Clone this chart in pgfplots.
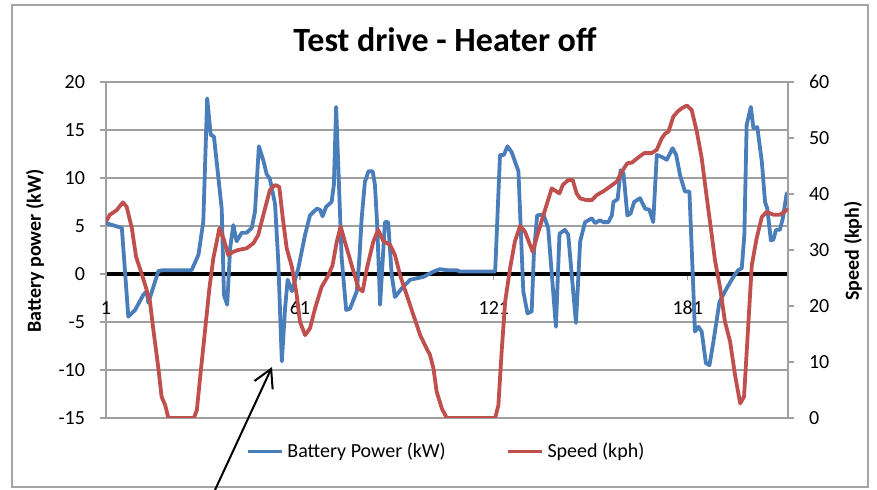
\documentclass[border=0pt]{standalone}
\usepackage{fontspec}
\setmainfont{Carlito}
\usepackage{pgfplots}
\pgfplotsset{compat=1.18}
\usetikzlibrary{arrows.meta}
\definecolor{xlblue}{RGB}{74,126,187}
\definecolor{xlred}{RGB}{192,80,77}
\definecolor{gridc}{RGB}{160,160,160}
\definecolor{framec}{RGB}{165,165,165}
\begin{document}
\begin{tikzpicture}
\useasboundingbox (0,0) rectangle (438.5pt,245pt);
\draw[framec, line width=0.9pt] (6pt,1.5pt) rectangle (434pt,242.5pt);
\node[font=\fontsize{17}{20}\selectfont\bfseries, anchor=base, inner sep=0pt] at (222.5pt,219pt) {Test drive - Heater off};
\node[font=\fontsize{10}{12}\selectfont\bfseries, rotate=90, inner sep=0pt] at (17.5pt,119.5pt) {Battery power (kW)};
\node[font=\fontsize{10}{12}\selectfont\bfseries, rotate=90, inner sep=0pt] at (426.5pt,119.5pt) {Speed (kph)};
\begin{axis}[
  at={(53pt,36pt)}, anchor=south west, scale only axis, width=341pt, height=168pt,
  xmin=1, xmax=212, ymin=-15, ymax=20,
  axis x line=middle, axis y line=left,
  hide obscured x ticks=false,
  axis line style={-},
  x axis line style={black, line width=2pt},
  y axis line style={gridc, line width=0.6pt},
  xtick={1,61,121,181}, ytick={-15,-10,...,20},
  tick align=outside, xtick align=outside,
  major tick length=3pt,
  tick style={gridc, line width=0.6pt},
  ymajorgrids, grid style={gridc, line width=0.6pt},
  ticklabel style={font=\fontsize{10}{12}\selectfont},
  /pgf/number format/assume math mode=true,
  xticklabel style={anchor=center, yshift=-14pt},
  yticklabel style={xshift=-4pt},
  legend style={at={(0.5,-0.1)}, anchor=center, draw=none, fill=none,
    legend columns=2, font=\fontsize{10}{12}\selectfont,
    /tikz/every even column/.append style={column sep=28pt}},
  legend cell align=left,
  legend image code/.code={\draw[#1] (0pt,0pt) -- (17pt,0pt);},
]
\addplot[xlblue, line width=1.9pt, line join=round] coordinates {
(1,5.3) (5.9,4.8) (7.9,-4.45) (10.0,-3.75) (12.5,-2.2) (13.6,-1.8) (14.1,-3.0) (17.2,0.3) (18.5,0.4) (27.5,0.4) (29.6,2.0) (31.1,5.45) (32.3,18.3) (33.4,14.5) (34.4,14.3) (36.8,6.8) (37.5,-2.2) (38.5,-3.2) (39.4,2.7) (40.4,5.1) (41.4,3.4) (43.0,4.3) (44.5,4.3) (46.1,4.8) (47.1,6.5) (48.3,13.3) (49.7,11.8) (50.7,10.4) (51.7,9.9) (53.3,7.3) (54.3,1.3) (55.4,-9.1) (56.4,-3.6) (57.2,-0.6) (58.5,-1.8) (60.5,0.6) (62.6,4.1) (64.1,6.1) (66.2,6.8) (67.2,6.7) (68.0,6.0) (69.1,7.0) (70.8,7.5) (71.5,9.3) (72.2,17.4) (73.9,1.7) (75.3,-3.75) (76.5,-3.6) (78.6,-1.8) (79.4,1.7) (80.1,5.8) (81.1,9.6) (82.2,10.7) (83.5,10.7) (84.2,9.3) (84.9,5.1) (85.8,-3.2) (87.3,5.4) (88.3,5.4) (89.4,-0.1) (90.4,-2.4) (92.5,-1.5) (95.1,-0.6) (99.2,-0.3) (102.3,0.25) (104.3,0.5) (106.4,0.4) (109.5,0.4) (110.5,0.25) (121.4,0.25) (122.9,12.4) (124.1,12.4) (125.2,13.3) (126.5,12.7) (128.6,10.7) (130.1,-1.8) (131.4,-4.1) (132.7,-3.9) (133.4,2.3) (134.4,6.1) (136.3,6.2) (137.8,4.8) (140.2,-5.5) (141.3,4.2) (143.0,4.6) (144.0,4.1) (146.4,-5.1) (147.7,3.4) (149.2,5.4) (151.3,5.8) (152.3,5.3) (153.8,5.6) (154.9,5.4) (156.4,5.4) (157.5,6.1) (158.0,7.5) (159.3,7.8) (160.2,10.8) (161.1,10.5) (162.3,6.1) (163.3,6.3) (164.4,7.5) (166.2,7.9) (167.8,6.8) (169.1,6.7) (170.3,5.4) (171.4,12.4) (172.9,12.2) (174.5,11.9) (176.3,13.1) (177.4,12.4) (178.6,10.3) (180.1,8.6) (181.5,8.6) (182.7,-1.5) (183.2,-6.0) (184.3,-5.5) (185.3,-6.0) (186.6,-9.3) (187.7,-9.5) (188.9,-7.1) (190.8,-2.9) (193.0,-1.5) (195.1,-0.3) (196.6,0.4) (197.7,0.6) (198.5,4.1) (199.2,15.5) (200.5,17.4) (201.3,15.2) (202.5,15.3) (203.9,11.7) (204.9,7.5) (205.6,6.8) (206.7,3.5) (207.5,3.6) (208.3,4.6) (209.5,4.6) (210.4,5.8) (211.6,8.4) (212,8.4)
};
\addlegendentry{Battery Power (kW)}
\addlegendimage{xlred, line width=1.9pt}
\addlegendentry{Speed (kph)}
\end{axis}
\begin{axis}[
  at={(53pt,36pt)}, anchor=south west, scale only axis, width=341pt, height=168pt,
  xmin=1, xmax=212, ymin=0, ymax=60,
  axis x line=none, axis y line*=right,
  axis line style={-},
  y axis line style={gridc, line width=0.6pt},
  ytick={0,10,...,60},
  tick align=outside, major tick length=3pt,
  tick style={gridc, line width=0.6pt},
  ticklabel style={font=\fontsize{10}{12}\selectfont},
  /pgf/number format/assume math mode=true,
  yticklabel style={xshift=4pt},
]
\addplot[xlred, line width=1.9pt, line join=round] coordinates {
(1,35.1) (2.2,36.3) (4.3,37.1) (6.2,38.5) (7.4,37.7) (9.0,33.9) (10.3,28.8) (11.5,26.7) (13.1,23.8) (14.6,20.8) (15.6,16) (17.2,8.9) (18.2,3.8) (19.3,2.3) (20.3,0) (28.2,0) (29.1,1.4) (30.1,7.1) (31.6,15.4) (33.0,23.2) (34.2,28.5) (36.1,33.9) (37.5,31.8) (38.8,29.1) (40.4,29.7) (41.9,30.0) (44.5,30.3) (46.6,31.2) (48.1,32.7) (49.7,36.3) (51.7,40.7) (53.3,41.6) (54.6,41.3) (55.7,35.7) (56.9,30.3) (58.5,27.0) (60.0,22) (61.0,17.2) (62.6,14.8) (64.1,16.0) (65.7,19.6) (67.7,23.4) (69.8,25.5) (71.1,27.3) (72.4,31.5) (73.6,34.2) (74.9,31.5) (77.0,27.3) (79.1,23.2) (80.4,22.6) (81.7,26.7) (83.7,31.5) (85.2,33.6) (86.8,31.6) (88.9,30.9) (90.4,29.1) (92.0,25.5) (94.0,22) (96.1,18.4) (98.2,14.8) (99.7,13) (101.2,11.3) (102.3,8.9) (103.3,4.7) (104.9,1.7) (106.4,0) (121.4,0) (122.4,2.3) (123.4,11.8) (124.5,20.8) (126.0,26.7) (127.5,31.5) (129.1,34.3) (130.6,33.3) (133.0,29.7) (134.8,33.3) (136.8,37.1) (138.9,41) (141.3,40.1) (142.3,41.6) (144.0,42.5) (145.4,42.5) (146.6,40.1) (147.7,39.2) (149.7,38.9) (151.3,38.9) (152.8,39.8) (154.9,40.5) (156.9,41.3) (159.0,42.2) (160.6,44) (162.3,45.5) (163.7,45.6) (165.4,46.4) (167.5,47.3) (169.8,47.3) (171.4,47.9) (172.9,49.9) (174.0,50.8) (175.0,51.1) (176.5,53.8) (177.8,54.7) (179.1,55.3) (180.7,55.8) (182.2,55.0) (183.8,51.1) (185.3,46.4) (186.9,39.2) (188.4,32.7) (189.4,28.2) (191.0,23.2) (192.5,17.2) (194.1,13.6) (195.6,7.7) (197.2,2.6) (198.4,3.8) (199.4,13.6) (200.8,27.3) (202.3,32.1) (203.9,35.9) (205.4,36.8) (207.5,36.3) (209.5,36.3) (210.8,36.8) (212,37.3)
};
\end{axis}
\draw[line width=1pt, -{Straight Barb[length=9pt, width=10pt, line width=1pt]}] (107.5pt,0pt) -- (136pt,61.5pt);
\end{tikzpicture}
\end{document}
